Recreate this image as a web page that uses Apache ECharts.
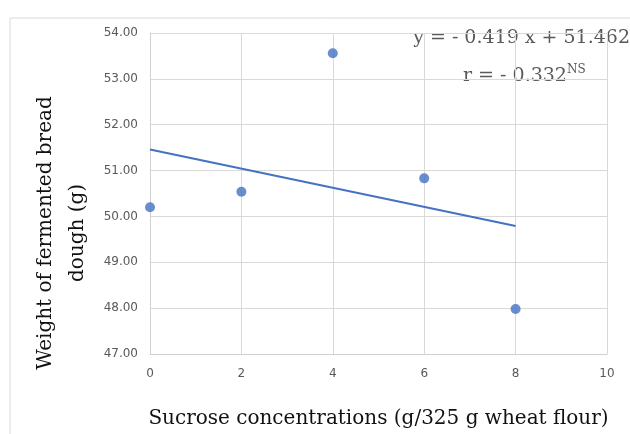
<!DOCTYPE html>
<html>
<head>
<meta charset="utf-8">
<script src="https://cdn.jsdelivr.net/npm/echarts@6/dist/echarts.min.js"></script>
<style>
  html, body { margin: 0; padding: 0; background: #fff; }
  #chart { width: 630px; height: 434px; }
</style>
</head>
<body>
<div id="chart"></div>
<script>
// sucrose concentration (g) and measured dough weight (g)
const sucrose = [0, 2, 4, 6, 8];
const doughWeight = [50.2, 50.54, 53.56, 50.83, 47.98];
// trend line ends as drawn in the figure
const trendX = [0, 8];
const trendY = [51.46, 49.79];

const grey = "#595959";
const serif = "'DejaVu Serif', serif";
const sans = "'DejaVu Sans', sans-serif";

const myChart = echarts.init(document.getElementById("chart"));

const option = {
  backgroundColor: "#fff",
  animation: false,
  grid: { left: 150, right: 23, top: 33, bottom: 80, outerBoundsMode: "none" },
  xAxis: {
    type: "value",
    min: 0,
    max: 10,
    interval: 2,
    axisLine: { lineStyle: { color: "#d0d0d0" } },
    axisTick: { show: false },
    splitLine: { lineStyle: { color: "#d9d9d9" } },
    axisLabel: { color: grey, fontSize: 12, fontFamily: sans, margin: 14 },
    name: "Sucrose concentrations (g/325 g wheat flour)",
    nameLocation: "middle",
    nameGap: 55,
    nameTextStyle: { color: "#111", fontSize: 20, fontFamily: serif }
  },
  yAxis: {
    type: "value",
    min: 47,
    max: 54,
    interval: 1,
    axisLine: { show: true, lineStyle: { color: "#d0d0d0" } },
    axisTick: { show: false },
    splitLine: { lineStyle: { color: "#d9d9d9" } },
    axisLabel: {
      color: grey, fontSize: 12, margin: 12, fontFamily: sans,
      formatter: v => v.toFixed(2)
    }
  },
  graphic: [
    {
      type: "rect",
      shape: { x: 10, y: 18, width: 640, height: 440 },
      style: { fill: "none", stroke: "#d9d9d9", lineWidth: 1 },
      z: -1
    },
    {
      // y axis title sits lower than the plot centre in the original
      type: "text",
      x: 62,
      y: 233,
      rotation: Math.PI / 2,
      style: {
        text: "Weight of fermented bread\ndough (g)",
        fill: "#111",
        font: "20px " + serif,
        lineHeight: 32,
        align: "center",
        verticalAlign: "middle"
      }
    },
    {
      type: "text",
      right: 0,
      top: 29,
      style: {
        text: "y = - 0.419 x + 51.462",
        fill: grey,
        font: "19px " + serif
      }
    },
    {
      type: "text",
      left: 463,
      top: 64,
      style: {
        text: "{b|r = - 0.332}{s|NS}",
        rich: {
          b: { fill: grey, fontSize: 19, fontFamily: serif },
          s: { fill: grey, fontSize: 12, fontFamily: serif, verticalAlign: "top", padding: [0, 0, 12, 0] }
        }
      }
    }
  ],
  series: [
    {
      type: "line",
      data: trendX.map((x, i) => [x, trendY[i]]),
      symbol: "none",
      lineStyle: { color: "#4472C4", width: 2 },
      z: 2
    },
    {
      type: "scatter",
      data: sucrose.map((x, i) => [x, doughWeight[i]]),
      symbolSize: 10,
      itemStyle: { color: "#4472C4" },
      z: 3
    }
  ]
};

myChart.setOption(option);
</script>
</body>
</html>
